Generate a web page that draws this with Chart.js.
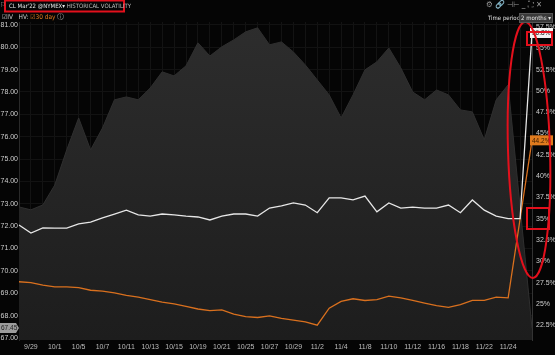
<!DOCTYPE html>
<html>
<head>
<meta charset="utf-8">
<script src="https://cdn.jsdelivr.net/npm/chart.js@4.4.1/dist/chart.umd.min.js"></script>
<style>
  html,body{margin:0;padding:0;background:#050505;overflow:hidden;}
  #wrap{position:relative;width:555px;height:355px;background:#050505;font-family:"Liberation Sans Narrow","DejaVu Sans Condensed",Arial,sans-serif;}
  canvas{position:absolute;left:0;top:0;}
  .t{position:absolute;white-space:nowrap;color:#d8d8d8;line-height:1;}
</style>
</head>
<body>
<div id="wrap">
  <canvas id="c" width="555" height="355"></canvas>
  <div class="t" style="left:0px;top:2px;font-size:7px;color:#aaa;">&#x2690;</div>
  <div class="t" style="left:9px;top:2.5px;font-size:6px;color:#e6e6e6;">CL Mar'22 @NYMEX&#x25BE; <span style="color:#bdbdbd">HISTORICAL VOLATILITY</span></div>
  <div class="t" style="left:2px;top:14px;font-size:6.5px;color:#cfcfcf;">&#x2611;IV&nbsp;&nbsp; HV: <span style="color:#e07b1e">&#x2611;30 day</span> <span style="color:#aaa">&#x24D8;</span></div>
  <div class="t" style="left:486px;top:1px;font-size:8px;color:#9a9a9a;">&#x2699; <span style="color:#3cba54">&#x1F517;</span> &#x22A3;&#x22A2; _ &#x26F6; &#x2715;</div>
  <div class="t" style="left:488px;top:15px;font-size:6px;color:#e0e0e0;">Time period:</div>
  <div class="t" style="left:519px;top:13px;font-size:6px;color:#e8e8e8;background:#3a3a3a;border:1px solid #555;padding:1px 1px;">2 months &#x25BE;</div>
</div>
<script>
// ---------- data ----------
const dates = ['9/28','9/29','9/30','10/1','10/4','10/5','10/6','10/7','10/8','10/11','10/12','10/13','10/14','10/15','10/18','10/19','10/20','10/21','10/22','10/25','10/26','10/27','10/28','10/29','11/1','11/2','11/3','11/4','11/5','11/8','11/9','11/10','11/11','11/12','11/15','11/16','11/17','11/18','11/19','11/22','11/23','11/24','11/25','11/26'];
const price = [72.86,72.73,72.95,73.84,75.41,76.84,75.41,76.39,77.65,77.78,77.65,78.18,78.90,78.72,79.17,80.20,79.61,80.02,80.33,80.69,80.87,80.11,80.24,79.79,79.21,78.54,77.87,76.84,77.87,78.99,79.35,79.97,79.08,78.00,77.65,78.09,77.87,77.20,77.11,75.86,77.65,78.32,null,67.45];
const iv = [34.26,33.32,33.91,33.9,33.9,34.4,34.6,35.1,35.55,36.0,35.45,35.3,35.55,35.45,35.3,35.2,34.85,35.3,35.55,35.55,35.3,36.25,36.5,36.85,36.6,35.7,37.45,37.45,37.2,37.65,35.8,36.85,36.25,36.35,36.25,36.25,36.6,35.7,37.2,36.0,35.3,35.0,35.0,56.8];
const hv = [27.6,27.5,27.2,27.0,27.0,26.9,26.6,26.5,26.3,26.0,25.8,25.5,25.2,25.0,24.7,24.4,24.2,24.3,23.8,23.5,23.4,23.6,23.3,23.1,22.9,22.5,24.5,25.3,25.6,25.4,25.5,25.9,25.7,25.4,25.1,24.8,24.6,24.9,25.4,25.4,25.8,25.7,null,44.2];
const priceTicks = [67,67.5,68,68.5,69,69.5,70,70.5,71,71.5,72,72.5,73,73.5,74,74.5,75,75.5,76,76.5,77,77.5,78,78.5,79,79.5,80,80.5,81];
const volTicks = [22.5,25,27.5,30,32.5,35,37.5,40,42.5,45,47.5,50,52.5,55,57.5];
const lastPrice = '67.45', lastIV = '56.8%', lastHV = '44.2%';

// ---------- annotation / tag plugin ----------
const overlay = {
  id:'overlay',
  afterDraw(chart){
    const c = chart.ctx, yl = chart.scales.yL, yr = chart.scales.yR;
    c.save();
    c.font = '6.5px "Liberation Sans", Arial, sans-serif';
    c.textBaseline = 'middle';
    let y = yr.getPixelForValue(56.8);
    c.fillStyle = '#f2f2f2'; c.fillRect(530, y-5, 23, 10);
    c.fillStyle = '#111'; c.textAlign='left'; c.fillText(lastIV, 532, y+0.5);
    y = yr.getPixelForValue(44.2);
    c.fillStyle = '#e07b1e'; c.fillRect(530, y-5, 23, 10);
    c.fillStyle = '#3a1d00'; c.fillText(lastHV, 532, y+0.5);
    y = yl.getPixelForValue(67.45);
    c.fillStyle = '#9c9c9c';
    c.beginPath(); c.moveTo(0,y-5); c.lineTo(16,y-5); c.lineTo(19,y); c.lineTo(16,y+5); c.lineTo(0,y+5); c.closePath(); c.fill();
    c.fillStyle = '#222'; c.fillText(lastPrice, 1, y+0.5);
    c.strokeStyle = '#e3101c'; c.lineWidth = 2;
    c.strokeRect(5, 0.5, 119, 11);
    c.strokeRect(527, 32, 25, 13);
    c.strokeRect(527, 208, 22, 21);
    c.beginPath(); c.ellipse(529, 150, 21, 128, -0.03, 0, Math.PI*2); c.stroke();
    c.restore();
  }
};

const bgPlugin = {
  id:'bg',
  beforeDraw(chart){
    const c = chart.ctx; c.save(); c.fillStyle = '#050505'; c.fillRect(0,0,chart.width,chart.height); c.restore();
  }
};

const font7 = {family:'"Liberation Sans", Arial, sans-serif', size:7};

new Chart(document.getElementById('c'), {
  type:'line',
  data:{
    labels:dates,
    datasets:[
      {label:"CL Mar'22", data:price, yAxisID:'yL', fill:'start', spanGaps:true, tension:0,
       backgroundColor:(ctx)=>{const ca=ctx.chart.chartArea; if(!ca) return '#262626';
         const g=ctx.chart.ctx.createLinearGradient(0,ca.top,0,ca.bottom); g.addColorStop(0,'#2d2d2d'); g.addColorStop(1,'#1d1d1d'); return g;},
       borderColor:'#2f2f2f', borderWidth:1, pointRadius:0, order:3},
      {label:'IV', data:iv, yAxisID:'yR', fill:false, tension:0, borderColor:'#e6e6e6', borderWidth:1.3, pointRadius:0, order:1},
      {label:'HV 30 day', data:hv, yAxisID:'yR', fill:false, spanGaps:true, tension:0, borderColor:'#d9701e', borderWidth:1.3, pointRadius:0, order:2}
    ]
  },
  options:{
    responsive:false, animation:false,
    layout:{padding:{top:22,left:0,right:0,bottom:0}},
    plugins:{legend:{display:false}, tooltip:{enabled:false}},
    scales:{
      x:{
        offset:false,
        grid:{color:'#131313', drawTicks:false},
        border:{display:false},
        ticks:{autoSkip:false, maxRotation:0, minRotation:0, color:'#bdbdbd', font:font7, padding:3,
          callback:(v,i)=> (i%2===1 && i<42) ? dates[i] : ''},
        afterFit:(s)=>{s.height=15;}
      },
      yL:{
        position:'left', min:66.91, max:81.13,
        afterBuildTicks:(s)=>{s.ticks = priceTicks.map(v=>({value:v}));},
        ticks:{color:'#cfcfcf', font:font7, padding:1, callback:(v)=>Number(v).toFixed(2)},
        grid:{color:'#121212', drawTicks:false},
        border:{display:true, color:'#2a2a2a'},
        afterFit:(s)=>{s.width=19;}
      },
      yR:{
        position:'right', min:20.76, max:58.09,
        afterBuildTicks:(s)=>{s.ticks = volTicks.map(v=>({value:v}));},
        ticks:{color:'#cfcfcf', font:font7, padding:4, callback:(v)=>v+'%'},
        grid:{display:false, drawTicks:false},
        border:{display:true, color:'#333'},
        afterFit:(s)=>{s.width=23;}
      }
    }
  },
  plugins:[bgPlugin, overlay]
});
</script>
</body>
</html>
